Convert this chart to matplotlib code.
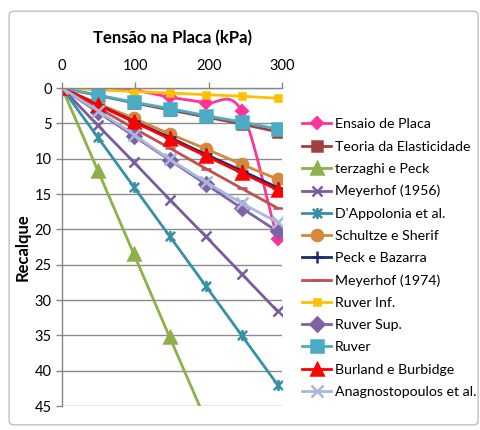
import numpy as np
import matplotlib
matplotlib.use("Agg")
import matplotlib.pyplot as plt
from matplotlib.path import Path
from matplotlib.patches import FancyBboxPatch

plt.rcParams['font.family'] = ['Lato', 'DejaVu Sans']

# tensao na placa (kPa)
tensao = [0, 49, 98, 147, 196, 245, 294]

ensaio_placa = [0, 0.0, 0.3, 1.3, 2.1, 3.3, 21.4]
teoria_elast = [0, 1.05, 2.1, 3.1, 4.1, 5.1, 6.2]
terzaghi_peck = [0, 11.7, 23.5, 35.3, 47.0, 58.8, 70.6]
meyerhof_1956 = [0, 5.3, 10.5, 15.8, 21.0, 26.3, 31.6]
dappolonia = [0, 7.0, 14.0, 21.0, 28.0, 35.0, 42.0]
schultze_sherif = [0, 2.2, 4.3, 6.5, 8.6, 10.8, 12.9]
peck_bazarra = [0, 2.35, 4.7, 7.0, 9.4, 11.7, 14.1]
meyerhof_1974 = [0, 2.8, 5.7, 8.5, 11.4, 14.2, 17.0]
ruver_inf = [0, 0.25, 0.5, 0.7, 0.95, 1.15, 1.45]
ruver_sup = [0, 3.4, 6.8, 10.2, 13.6, 17.0, 20.3]
ruver = [0, 1.0, 2.0, 2.9, 3.9, 4.8, 5.8]
burland = [0, 2.4, 4.8, 7.2, 9.6, 12.0, 14.4]
anagnostopoulos = [0, 3.2, 6.6, 10.1, 13.3, 16.3, 19.0]

# Excel-like "star" marker: an x with a vertical bar
star = Path([(-1, -1), (1, 1), (-1, 1), (1, -1), (0, -1.2), (0, 1.2)],
            [Path.MOVETO, Path.LINETO, Path.MOVETO, Path.LINETO, Path.MOVETO, Path.LINETO])


def smooth(xs, ys, n=30):
    # catmull-rom curve through the points, like Excel's smoothed line
    xs = np.asarray(xs, float)
    ys = np.asarray(ys, float)
    px = np.concatenate([[2 * xs[0] - xs[1]], xs, [2 * xs[-1] - xs[-2]]])
    py = np.concatenate([[2 * ys[0] - ys[1]], ys, [2 * ys[-1] - ys[-2]]])
    outx, outy = [], []
    for i in range(1, len(px) - 2):
        t = np.linspace(0, 1, n)
        for p, out in ((px, outx), (py, outy)):
            p0, p1, p2, p3 = p[i - 1], p[i], p[i + 1], p[i + 2]
            out.extend(0.5 * (2 * p1 + (-p0 + p2) * t + (2 * p0 - 5 * p1 + 4 * p2 - p3) * t ** 2
                              + (-p0 + 3 * p1 - 3 * p2 + p3) * t ** 3))
    return outx, outy


series = [
    ("Ensaio de Placa", ensaio_placa, '#FF3399', 'D', 6),
    ("Teoria da Elasticidade", teoria_elast, '#A3403D', 's', 7),
    ("terzaghi e Peck", terzaghi_peck, '#8DB04A', '^', 8),
    ("Meyerhof (1956)", meyerhof_1956, '#7A5C9C', 'x', 7),
    ("D'Appolonia et al.", dappolonia, '#3590A8', star, 8),
    ("Schultze e Sherif", schultze_sherif, '#D6873D', 'o', 8),
    ("Peck e Bazarra", peck_bazarra, '#1C2A6E', '+', 8),
    ("Meyerhof (1974)", meyerhof_1974, '#C0504D', '_', 7),
    ("Ruver Inf.", ruver_inf, '#FFC000', 's', 4),
    ("Ruver Sup.", ruver_sup, '#7F62A6', 'D', 7),
    ("Ruver", ruver, '#4BACC6', 's', 9),
    ("Burland e Burbidge", burland, '#FF0000', '^', 9),
    ("Anagnostopoulos et al.", anagnostopoulos, '#A9B8DA', 'x', 8),
]

fig = plt.figure(figsize=(4.81, 4.30), dpi=100)
ax = fig.add_axes([0.1289, 0.0558, 0.4574, 0.7395])

fig.patches.append(FancyBboxPatch((0.019, 0.012), 0.975, 0.962, boxstyle="round,pad=0,rounding_size=0.01",
                                  transform=fig.transFigure, facecolor='none',
                                  edgecolor='#BFBFBF', linewidth=1))

handles = []
for name, vals, color, mk, ms in series:
    if name == "Ensaio de Placa":
        sx, sy = smooth(tensao, vals)
        ax.plot(sx, sy, color=color, lw=2, zorder=2, clip_on=True)
        ax.plot(tensao, vals, ls='none', marker=mk, ms=ms, color=color,
                mec=color, mew=1.5, zorder=2)
        h, = ax.plot([], [], color=color, lw=2, marker=mk, ms=ms, mec=color, mew=1.5)
    else:
        h, = ax.plot(tensao, vals, color=color, lw=2, marker=mk, ms=ms,
                     mec=color, mew=1.8, zorder=2)
    h.set_label(name)
    handles.append(h)

ax.set_xlim(0, 300)
ax.set_ylim(45, 0)
ax.set_xticks([0, 100, 200, 300])
ax.set_yticks(np.arange(0, 50, 5))
ax.xaxis.tick_top()
ax.xaxis.set_label_position('top')
ax.tick_params(axis='both', labelsize=10.5, color='#868686', length=4, width=1)
ax.tick_params(axis='x', pad=7)
ax.yaxis.grid(True, color='#8C8C8C', lw=1)
for s in ['right', 'bottom']:
    ax.spines[s].set_visible(False)
for s in ['left', 'top']:
    ax.spines[s].set_color('#868686')
    ax.spines[s].set_linewidth(1)

ax.set_xlabel('Tensão na Placa (kPa)', fontsize=12, fontweight='bold', labelpad=11)
ax.set_ylabel('Recalque', fontsize=12, fontweight='bold', labelpad=3)

fig.legend(handles=handles, loc='upper left', bbox_to_anchor=(0.617, 0.738),
           frameon=False, fontsize=10.2, handlelength=2.0, labelspacing=0.72,
           handletextpad=0.3, borderaxespad=0)

fig.savefig('out.png', dpi=100)
